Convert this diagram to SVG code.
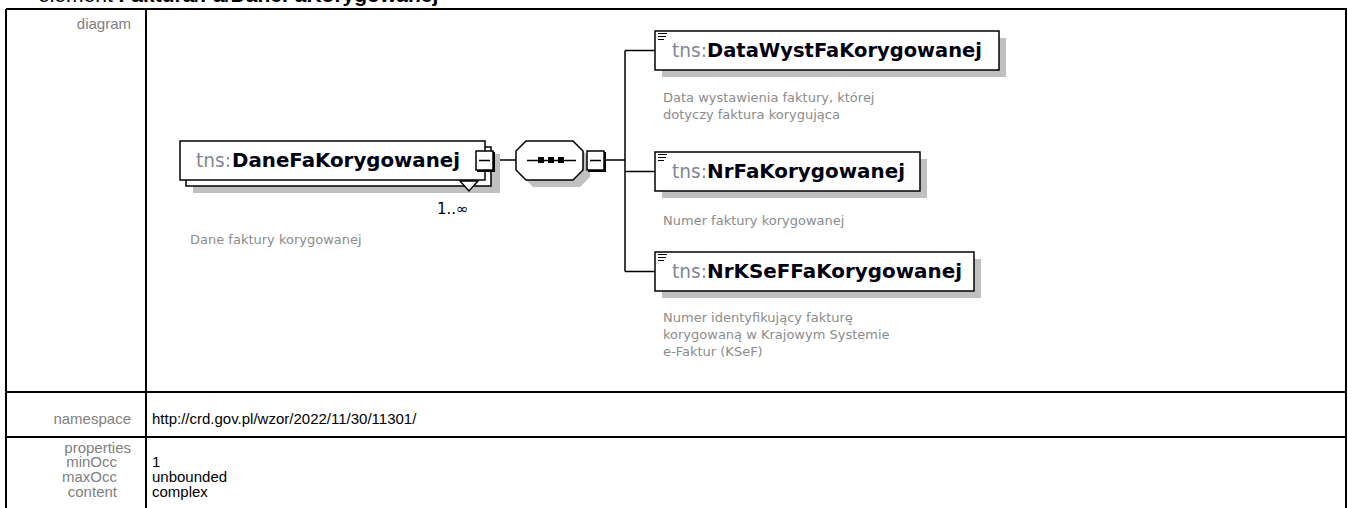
<svg xmlns="http://www.w3.org/2000/svg" width="1348" height="508" viewBox="0 0 1348 508">
<style>
.lbl{font-family:"Liberation Sans",Arial,sans-serif;font-size:15px;fill:#808080}
.val{font-family:"Liberation Sans",Arial,sans-serif;font-size:15px;fill:#000}
.grid{stroke:#000;stroke-width:2;fill:none}
.box{fill:#fff;stroke:#000;stroke-width:1.5}
.shadow{fill:#c0c0c0}
.pre{font-family:"DejaVu Sans",sans-serif;font-size:19px;fill:#7f8894}
.nm{font-family:"DejaVu Sans",sans-serif;font-size:19px;font-weight:bold;fill:#000010}
.desc{font-family:"DejaVu Sans",sans-serif;font-size:13px;fill:#8c8c8c}
.conn{stroke:#000;stroke-width:1.5;fill:none}
.icon{stroke:#000;stroke-width:1}
</style>
<text x="38" y="2" font-family="Liberation Sans,Arial,sans-serif" font-size="21" fill="#000">element <tspan font-weight="bold">Faktura/Fa/DaneFaKorygowanej</tspan></text>
<g id="table">
<path class="grid" d="M6,9 H1346 V508 M6,9 V508 M146,9 V508 M6,392 H1346 M6,437 H1346"/>
<text class="lbl" x="131" y="29" text-anchor="end">diagram</text>
<text class="lbl" x="131" y="424" text-anchor="end">namespace</text>
<text class="val" x="152" y="424">http://crd.gov.pl/wzor/2022/11/30/11301/</text>
<text class="lbl" x="131" y="453" text-anchor="end">properties</text>
<text class="lbl" x="117" y="467" text-anchor="end">minOcc</text>
<text class="val" x="152" y="467">1</text>
<text class="lbl" x="117" y="482" text-anchor="end">maxOcc</text>
<text class="val" x="152" y="482">unbounded</text>
<text class="lbl" x="117" y="497" text-anchor="end">content</text>
<text class="val" x="152" y="497">complex</text>
</g>
<g id="connectors">
<path class="conn" d="M494,160 H516"/>
<path class="conn" d="M606,160 H625 M625,50.5 V271.5 M625,50.5 H655 M625,171.5 H655 M625,271.5 H655"/>
</g>
<g id="DaneFaKorygowanej">
<rect class="shadow" x="193" y="154" width="307" height="39"/>
<rect class="box" x="186" y="147" width="305" height="39"/>
<rect class="box" x="180" y="141" width="305" height="39"/>
<polygon class="box" points="460,181 469,191 478,181"/>
<text class="pre" x="196" y="167" textLength="35" lengthAdjust="spacingAndGlyphs">tns:</text>
<text class="nm" x="232" y="167" textLength="228" lengthAdjust="spacingAndGlyphs">DaneFaKorygowanej</text>
<rect x="476" y="151" width="17" height="19" fill="#fff" stroke="#000" stroke-width="1.5"/>
<path d="M494,152 V171 H477" stroke="#000" stroke-width="2" fill="none"/>
<path d="M479,160.5 H490" stroke="#000" stroke-width="1.5"/>
<text x="437" y="214" font-family="DejaVu Sans,sans-serif" font-size="15" fill="#000020">1..∞</text>
<text class="desc" x="190" y="244">Dane faktury korygowanej</text>
</g>
<g id="sequence">
<polygon class="shadow" points="533,148 580,148 590,158 590,177 580,187 533,187 523,177 523,158"/>
<polygon class="box" points="526,141 573,141 583,151 583,170 573,180 526,180 516,170 516,151"/>
<path d="M527,160.5 H576" stroke="#000" stroke-width="1.5"/>
<rect x="538" y="157" width="6" height="6" fill="#000"/>
<rect x="548" y="157" width="6" height="6" fill="#000"/>
<rect x="558" y="157" width="6" height="6" fill="#000"/>
<rect x="587" y="151" width="17" height="19" fill="#fff" stroke="#000" stroke-width="1.5"/>
<path d="M605,152 V171 H588" stroke="#000" stroke-width="2" fill="none"/>
<path d="M590,160.5 H601" stroke="#000" stroke-width="1.5"/>
</g>
<g id="DataWystFaKorygowanej">
<rect class="shadow" x="662" y="38" width="344" height="39"/>
<rect class="box" x="655" y="31" width="344" height="39"/>
<path class="icon" d="M658,33.5 H667 M658,36.5 H666 M658,39.5 H664"/>
<text class="pre" x="672" y="57" textLength="35" lengthAdjust="spacingAndGlyphs">tns:</text>
<text class="nm" x="707" y="57" textLength="275" lengthAdjust="spacingAndGlyphs">DataWystFaKorygowanej</text>
<text class="desc" x="663" y="102">Data wystawienia faktury, której</text>
<text class="desc" x="663" y="119">dotyczy faktura korygująca</text>
</g>
<g id="NrFaKorygowanej">
<rect class="shadow" x="662" y="159" width="265" height="39"/>
<rect class="box" x="655" y="152" width="265" height="39"/>
<path class="icon" d="M658,154.5 H667 M658,157.5 H666 M658,160.5 H664"/>
<text class="pre" x="672" y="178" textLength="35" lengthAdjust="spacingAndGlyphs">tns:</text>
<text class="nm" x="707" y="178" textLength="198" lengthAdjust="spacingAndGlyphs">NrFaKorygowanej</text>
<text class="desc" x="663" y="225">Numer faktury korygowanej</text>
</g>
<g id="NrKSeFFaKorygowanej">
<rect class="shadow" x="662" y="259" width="319" height="39"/>
<rect class="box" x="655" y="252" width="319" height="39"/>
<path class="icon" d="M658,254.5 H667 M658,257.5 H666 M658,260.5 H664"/>
<text class="pre" x="672" y="278" textLength="35" lengthAdjust="spacingAndGlyphs">tns:</text>
<text class="nm" x="707" y="278" textLength="255" lengthAdjust="spacingAndGlyphs">NrKSeFFaKorygowanej</text>
<text class="desc" x="663" y="322">Numer identyfikujący fakturę</text>
<text class="desc" x="663" y="339">korygowaną w Krajowym Systemie</text>
<text class="desc" x="663" y="356">e-Faktur (KSeF)</text>
</g>
</svg>
